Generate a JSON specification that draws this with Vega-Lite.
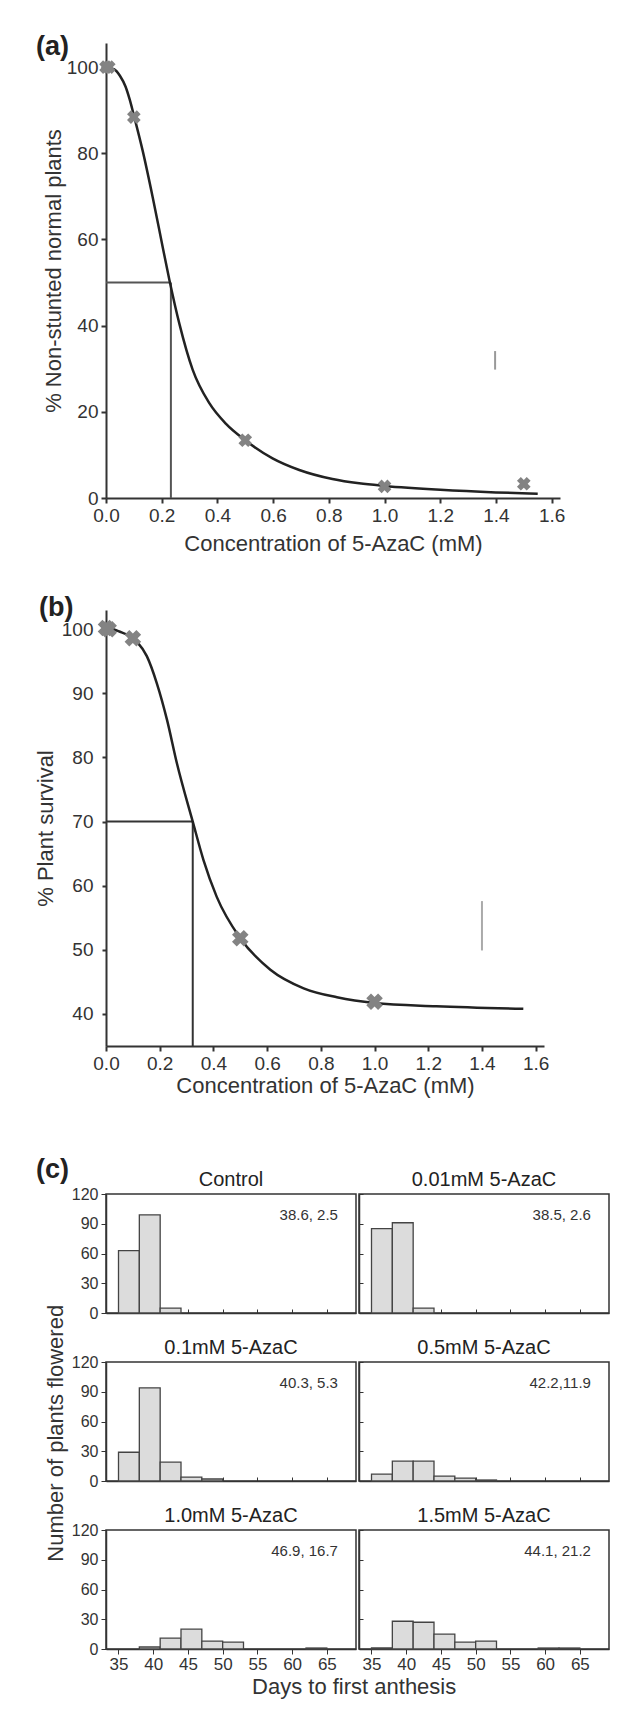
{
  "$schema": "https://vega.github.io/schema/vega-lite/v6.json",
  "padding": {"left": 34, "top": 33, "right": 5, "bottom": 5},
  "background": "white",
  "config": {
    "font": "Liberation Sans",
    "axis": {"domainColor": "#333", "tickColor": "#333", "labelColor": "#333", "titleColor": "#333", "grid": false, "titleFontWeight": "normal", "labelFont": "Liberation Sans", "titleFont": "Liberation Sans", "labelOverlap": false},
    "view": {"stroke": null},
    "title": {"color": "#222", "font": "Liberation Sans"}
  },
  "datasets": {
    "curveA": [
      {"x": 0, "y": 100}, {"x": 0.03, "y": 99.5}, {"x": 0.05, "y": 98.0}, {"x": 0.07, "y": 95.5}, {"x": 0.085, "y": 92.5},
      {"x": 0.1, "y": 88.8}, {"x": 0.132, "y": 80.5}, {"x": 0.168, "y": 69.7}, {"x": 0.204, "y": 58.1}, {"x": 0.228, "y": 50.5},
      {"x": 0.264, "y": 40.3}, {"x": 0.311, "y": 29.8}, {"x": 0.371, "y": 22.0}, {"x": 0.431, "y": 17.2}, {"x": 0.5, "y": 13.4},
      {"x": 0.598, "y": 9.2}, {"x": 0.694, "y": 6.5}, {"x": 0.813, "y": 4.4}, {"x": 0.909, "y": 3.4}, {"x": 1.0, "y": 2.8},
      {"x": 1.2, "y": 1.9}, {"x": 1.4, "y": 1.3}, {"x": 1.55, "y": 1.0}
    ],
    "pointsA": [
      {"x": 0, "y": 100}, {"x": 0.01, "y": 100}, {"x": 0.1, "y": 88.4}, {"x": 0.5, "y": 13.4}, {"x": 1.0, "y": 2.7}, {"x": 1.5, "y": 3.3}
    ],
    "refA": [
      {"x": 0, "x2": 0.233, "y": 50, "y2": 50}, {"x": 0.233, "x2": 0.233, "y": 0, "y2": 50}
    ],
    "strayA": [{"x": 1.397, "y": 29.8, "y2": 34.1}],
    "curveB": [
      {"x": 0, "y": 100.3}, {"x": 0.046, "y": 99.7}, {"x": 0.114, "y": 98.1}, {"x": 0.152, "y": 95.8}, {"x": 0.189, "y": 91.6},
      {"x": 0.227, "y": 85.9}, {"x": 0.264, "y": 79.1}, {"x": 0.323, "y": 70.0}, {"x": 0.363, "y": 64.0}, {"x": 0.412, "y": 58.3},
      {"x": 0.5, "y": 51.8}, {"x": 0.612, "y": 46.9}, {"x": 0.736, "y": 44.0}, {"x": 0.86, "y": 42.6}, {"x": 1.0, "y": 41.7},
      {"x": 1.23, "y": 41.2}, {"x": 1.554, "y": 40.8}
    ],
    "pointsB": [
      {"x": 0, "y": 100.2}, {"x": 0.01, "y": 100.0}, {"x": 0.1, "y": 98.6}, {"x": 0.5, "y": 51.8}, {"x": 1.0, "y": 41.9}
    ],
    "refB": [
      {"x": 0, "x2": 0.323, "y": 70, "y2": 70}, {"x": 0.323, "x2": 0.323, "y": 35, "y2": 70}
    ],
    "strayB": [{"x": 1.4, "y": 49.9, "y2": 57.6}],
    "hist": [
      {"panel": "Control", "start": 35, "end": 38, "count": 63},
      {"panel": "Control", "start": 38, "end": 41, "count": 99},
      {"panel": "Control", "start": 41, "end": 44, "count": 5},
      {"panel": "0.01mM 5-AzaC", "start": 35, "end": 38, "count": 85},
      {"panel": "0.01mM 5-AzaC", "start": 38, "end": 41, "count": 91},
      {"panel": "0.01mM 5-AzaC", "start": 41, "end": 44, "count": 5},
      {"panel": "0.1mM 5-AzaC", "start": 35, "end": 38, "count": 29},
      {"panel": "0.1mM 5-AzaC", "start": 38, "end": 41, "count": 94},
      {"panel": "0.1mM 5-AzaC", "start": 41, "end": 44, "count": 19},
      {"panel": "0.1mM 5-AzaC", "start": 44, "end": 47, "count": 4},
      {"panel": "0.1mM 5-AzaC", "start": 47, "end": 50, "count": 2},
      {"panel": "0.5mM 5-AzaC", "start": 35, "end": 38, "count": 7},
      {"panel": "0.5mM 5-AzaC", "start": 38, "end": 41, "count": 20},
      {"panel": "0.5mM 5-AzaC", "start": 41, "end": 44, "count": 20},
      {"panel": "0.5mM 5-AzaC", "start": 44, "end": 47, "count": 5},
      {"panel": "0.5mM 5-AzaC", "start": 47, "end": 50, "count": 3},
      {"panel": "0.5mM 5-AzaC", "start": 50, "end": 53, "count": 1},
      {"panel": "1.0mM 5-AzaC", "start": 38, "end": 41, "count": 2},
      {"panel": "1.0mM 5-AzaC", "start": 41, "end": 44, "count": 11},
      {"panel": "1.0mM 5-AzaC", "start": 44, "end": 47, "count": 20},
      {"panel": "1.0mM 5-AzaC", "start": 47, "end": 50, "count": 8},
      {"panel": "1.0mM 5-AzaC", "start": 50, "end": 53, "count": 7},
      {"panel": "1.0mM 5-AzaC", "start": 62, "end": 65, "count": 1},
      {"panel": "1.5mM 5-AzaC", "start": 35, "end": 38, "count": 1},
      {"panel": "1.5mM 5-AzaC", "start": 38, "end": 41, "count": 28},
      {"panel": "1.5mM 5-AzaC", "start": 41, "end": 44, "count": 27},
      {"panel": "1.5mM 5-AzaC", "start": 44, "end": 47, "count": 15},
      {"panel": "1.5mM 5-AzaC", "start": 47, "end": 50, "count": 7},
      {"panel": "1.5mM 5-AzaC", "start": 50, "end": 53, "count": 8},
      {"panel": "1.5mM 5-AzaC", "start": 59, "end": 62, "count": 1},
      {"panel": "1.5mM 5-AzaC", "start": 62, "end": 65, "count": 1}
    ],
    "notes": [
      {"panel": "Control", "note": "38.6, 2.5"},
      {"panel": "0.01mM 5-AzaC", "note": "38.5, 2.6"},
      {"panel": "0.1mM 5-AzaC", "note": "40.3, 5.3"},
      {"panel": "0.5mM 5-AzaC", "note": "42.2,11.9"},
      {"panel": "1.0mM 5-AzaC", "note": "46.9, 16.7"},
      {"panel": "1.5mM 5-AzaC", "note": "44.1, 21.2"}
    ]
  },
  "spacing": 59,
  "vconcat": [
    {
      "spacing": 40,
      "vconcat": [
        {
          "width": 454, "height": 455,
          "title": {"text": "(a)", "anchor": "start", "frame": "group", "fontSize": 27, "fontWeight": "bold", "dx": -70, "offset": -18},
          "layer": [
            {"data": {"name": "refA"}, "mark": {"type": "rule", "color": "#555", "strokeWidth": 2},
             "encoding": {
               "x": {"field": "x", "type": "quantitative", "scale": {"domain": [0, 1.63], "nice": false, "zero": false},
                     "axis": {"title": "Concentration of 5-AzaC (mM)", "values": [0, 0.2, 0.4, 0.6, 0.8, 1.0, 1.2, 1.4, 1.6], "tickCount": 20, "format": ".1f", "labelFontSize": 19, "titleFontSize": 22, "tickSize": 5, "tickWidth": 2, "domainWidth": 2, "labelPadding": 3, "titlePadding": 8, "labelFlush": false}},
               "x2": {"field": "x2"},
               "y": {"field": "y", "type": "quantitative", "scale": {"domain": [0, 105.6], "nice": false},
                     "axis": {"title": "% Non-stunted normal plants", "values": [0, 20, 40, 60, 80, 100], "tickCount": 20, "labelFontSize": 19, "titleFontSize": 22, "tickSize": 5, "tickWidth": 2, "domainWidth": 2, "labelPadding": 3, "titlePadding": 1, "labelFlush": false}},
               "y2": {"field": "y2"}
             }},
            {"data": {"name": "curveA"}, "mark": {"type": "line", "color": "#222", "strokeWidth": 2.5, "interpolate": "monotone"},
             "encoding": {"x": {"field": "x", "type": "quantitative"}, "y": {"field": "y", "type": "quantitative"}}},
            {"data": {"name": "pointsA"}, "mark": {"type": "point", "shape": "cross", "angle": 45, "filled": true, "color": "#838383", "size": 190, "opacity": 1},
             "encoding": {"x": {"field": "x", "type": "quantitative"}, "y": {"field": "y", "type": "quantitative"}}},
            {"data": {"name": "strayA"}, "mark": {"type": "rule", "color": "#999", "strokeWidth": 2},
             "encoding": {"x": {"field": "x", "type": "quantitative"}, "y": {"field": "y", "type": "quantitative"}, "y2": {"field": "y2"}}}
          ]
        },
        {
          "width": 438, "height": 436,
          "title": {"text": "(b)", "anchor": "start", "frame": "group", "fontSize": 27, "fontWeight": "bold", "dx": -67, "offset": -12},
          "layer": [
            {"data": {"name": "refB"}, "mark": {"type": "rule", "color": "#333", "strokeWidth": 2},
             "encoding": {
               "x": {"field": "x", "type": "quantitative", "scale": {"domain": [0, 1.631], "nice": false, "zero": false},
                     "axis": {"title": "Concentration of 5-AzaC (mM)", "values": [0, 0.2, 0.4, 0.6, 0.8, 1.0, 1.2, 1.4, 1.6], "tickCount": 20, "format": ".1f", "labelFontSize": 19, "titleFontSize": 22, "tickSize": 5, "tickWidth": 2, "domainWidth": 2, "labelPadding": 3, "titlePadding": 2, "labelFlush": false}},
               "x2": {"field": "x2"},
               "y": {"field": "y", "type": "quantitative", "scale": {"domain": [35, 103], "nice": false, "zero": false},
                     "axis": {"title": "% Plant survival", "values": [40, 50, 60, 70, 80, 90, 100], "tickCount": 20, "labelFontSize": 19, "titleFontSize": 22, "tickSize": 4, "tickWidth": 2, "domainWidth": 2, "labelPadding": 9, "titlePadding": 4, "labelFlush": false}},
               "y2": {"field": "y2"}
             }},
            {"data": {"name": "curveB"}, "mark": {"type": "line", "color": "#222", "strokeWidth": 2.5, "interpolate": "monotone"},
             "encoding": {"x": {"field": "x", "type": "quantitative"}, "y": {"field": "y", "type": "quantitative"}}},
            {"data": {"name": "pointsB"}, "mark": {"type": "point", "shape": "cross", "angle": 45, "filled": true, "color": "#838383", "size": 280, "opacity": 1},
             "encoding": {"x": {"field": "x", "type": "quantitative"}, "y": {"field": "y", "type": "quantitative"}}},
            {"data": {"name": "strayB"}, "mark": {"type": "rule", "color": "#aaa", "strokeWidth": 2},
             "encoding": {"x": {"field": "x", "type": "quantitative"}, "y": {"field": "y", "type": "quantitative"}, "y2": {"field": "y2"}}}
          ]
        }
      ]
    },
    {
      "title": {"text": "(c)", "anchor": "start", "frame": "group", "fontSize": 27, "fontWeight": "bold", "dx": -70, "offset": -15},
      "vconcat": [
        {
          "title": {"text": "Number of plants flowered", "orient": "left", "anchor": "middle", "fontSize": 22, "fontWeight": "normal", "color": "#333", "offset": 3},
          "vconcat": [
            {
              "title": {"text": "Days to first anthesis", "orient": "bottom", "anchor": "middle", "dx": 14, "fontSize": 22, "fontWeight": "normal", "color": "#333", "offset": 4},
              "spacing": 14,
              "vconcat": [
                {
                  "spacing": 0,
                  "hconcat": [
                    {
                      "width": 250, "height": 119, "view": {"stroke": "#333", "strokeWidth": 1.5},
                      "title": {"text": "Control", "fontSize": 20, "fontWeight": "normal", "offset": -4},
                      "data": {"name": "hist"}, "transform": [{"filter": "datum.panel === 'Control'"}],
                      "layer": [
                        {"mark": {"type": "bar", "fill": "#dcdcdc", "stroke": "#444", "strokeWidth": 1.3},
                         "encoding": {
                           "x": {"field": "start", "type": "quantitative", "scale": {"domain": [33.2, 69.2], "nice": false, "zero": false}, "axis": {"title": null, "values": [35, 40, 45, 50, 55, 60, 65], "tickCount": 20, "labels": false, "tickSize": -4, "domainWidth": 1.5}},
                           "x2": {"field": "end"},
                           "y": {"field": "count", "type": "quantitative", "scale": {"domain": [0, 120], "nice": false}, "axis": {"title": null, "values": [0, 30, 60, 90, 120], "tickCount": 20, "labelFontSize": 16, "tickSize": 5, "labelPadding": 3, "domainWidth": 1.5}},
                           "y2": {"datum": 0}
                         }},
                        {"data": {"name": "notes"}, "transform": [{"filter": "datum.panel === 'Control'"}],
                         "mark": {"type": "text", "align": "right", "baseline": "middle", "fontSize": 15, "color": "#333"},
                         "encoding": {"x": {"datum": 66.6}, "y": {"datum": 99}, "text": {"field": "note"}}}
                      ]
                    },
                    {
                      "width": 250, "height": 119, "view": {"stroke": "#333", "strokeWidth": 1.5},
                      "title": {"text": "0.01mM 5-AzaC", "fontSize": 20, "fontWeight": "normal", "offset": 4},
                      "data": {"name": "hist"}, "transform": [{"filter": "datum.panel === '0.01mM 5-AzaC'"}],
                      "layer": [
                        {"mark": {"type": "bar", "fill": "#dcdcdc", "stroke": "#444", "strokeWidth": 1.3},
                         "encoding": {
                           "x": {"field": "start", "type": "quantitative", "scale": {"domain": [33.2, 69.2], "nice": false, "zero": false}, "axis": {"title": null, "values": [35, 40, 45, 50, 55, 60, 65], "tickCount": 20, "labels": false, "tickSize": -4, "domainWidth": 1.5}},
                           "x2": {"field": "end"},
                           "y": {"field": "count", "type": "quantitative", "scale": {"domain": [0, 120], "nice": false}, "axis": {"title": null, "values": [0, 30, 60, 90, 120], "tickCount": 20, "labels": false, "tickSize": -4, "domainWidth": 1.5}},
                           "y2": {"datum": 0}
                         }},
                        {"data": {"name": "notes"}, "transform": [{"filter": "datum.panel === '0.01mM 5-AzaC'"}],
                         "mark": {"type": "text", "align": "right", "baseline": "middle", "fontSize": 15, "color": "#333"},
                         "encoding": {"x": {"datum": 66.6}, "y": {"datum": 99}, "text": {"field": "note"}}}
                      ]
                    }
                  ]
                },
                {
                  "spacing": 0,
                  "hconcat": [
                    {
                      "width": 250, "height": 119, "view": {"stroke": "#333", "strokeWidth": 1.5},
                      "title": {"text": "0.1mM 5-AzaC", "fontSize": 20, "fontWeight": "normal", "offset": -4},
                      "data": {"name": "hist"}, "transform": [{"filter": "datum.panel === '0.1mM 5-AzaC'"}],
                      "layer": [
                        {"mark": {"type": "bar", "fill": "#dcdcdc", "stroke": "#444", "strokeWidth": 1.3},
                         "encoding": {
                           "x": {"field": "start", "type": "quantitative", "scale": {"domain": [33.2, 69.2], "nice": false, "zero": false}, "axis": {"title": null, "values": [35, 40, 45, 50, 55, 60, 65], "tickCount": 20, "labels": false, "tickSize": -4, "domainWidth": 1.5}},
                           "x2": {"field": "end"},
                           "y": {"field": "count", "type": "quantitative", "scale": {"domain": [0, 120], "nice": false}, "axis": {"title": null, "values": [0, 30, 60, 90, 120], "tickCount": 20, "labelFontSize": 16, "tickSize": 5, "labelPadding": 3, "domainWidth": 1.5}},
                           "y2": {"datum": 0}
                         }},
                        {"data": {"name": "notes"}, "transform": [{"filter": "datum.panel === '0.1mM 5-AzaC'"}],
                         "mark": {"type": "text", "align": "right", "baseline": "middle", "fontSize": 15, "color": "#333"},
                         "encoding": {"x": {"datum": 66.6}, "y": {"datum": 99}, "text": {"field": "note"}}}
                      ]
                    },
                    {
                      "width": 250, "height": 119, "view": {"stroke": "#333", "strokeWidth": 1.5},
                      "title": {"text": "0.5mM 5-AzaC", "fontSize": 20, "fontWeight": "normal", "offset": 4},
                      "data": {"name": "hist"}, "transform": [{"filter": "datum.panel === '0.5mM 5-AzaC'"}],
                      "layer": [
                        {"mark": {"type": "bar", "fill": "#dcdcdc", "stroke": "#444", "strokeWidth": 1.3},
                         "encoding": {
                           "x": {"field": "start", "type": "quantitative", "scale": {"domain": [33.2, 69.2], "nice": false, "zero": false}, "axis": {"title": null, "values": [35, 40, 45, 50, 55, 60, 65], "tickCount": 20, "labels": false, "tickSize": -4, "domainWidth": 1.5}},
                           "x2": {"field": "end"},
                           "y": {"field": "count", "type": "quantitative", "scale": {"domain": [0, 120], "nice": false}, "axis": {"title": null, "values": [0, 30, 60, 90, 120], "tickCount": 20, "labels": false, "tickSize": -4, "domainWidth": 1.5}},
                           "y2": {"datum": 0}
                         }},
                        {"data": {"name": "notes"}, "transform": [{"filter": "datum.panel === '0.5mM 5-AzaC'"}],
                         "mark": {"type": "text", "align": "right", "baseline": "middle", "fontSize": 15, "color": "#333"},
                         "encoding": {"x": {"datum": 66.6}, "y": {"datum": 99}, "text": {"field": "note"}}}
                      ]
                    }
                  ]
                },
                {
                  "spacing": 0,
                  "hconcat": [
                    {
                      "width": 250, "height": 119, "view": {"stroke": "#333", "strokeWidth": 1.5},
                      "title": {"text": "1.0mM 5-AzaC", "fontSize": 20, "fontWeight": "normal", "offset": -4},
                      "data": {"name": "hist"}, "transform": [{"filter": "datum.panel === '1.0mM 5-AzaC'"}],
                      "layer": [
                        {"mark": {"type": "bar", "fill": "#dcdcdc", "stroke": "#444", "strokeWidth": 1.3},
                         "encoding": {
                           "x": {"field": "start", "type": "quantitative", "scale": {"domain": [33.2, 69.2], "nice": false, "zero": false}, "axis": {"title": null, "values": [35, 40, 45, 50, 55, 60, 65], "tickCount": 20, "labelFontSize": 17, "tickSize": 5, "labelPadding": 2, "domainWidth": 1.5, "labelFlush": false}},
                           "x2": {"field": "end"},
                           "y": {"field": "count", "type": "quantitative", "scale": {"domain": [0, 120], "nice": false}, "axis": {"title": null, "values": [0, 30, 60, 90, 120], "tickCount": 20, "labelFontSize": 16, "tickSize": 5, "labelPadding": 3, "domainWidth": 1.5}},
                           "y2": {"datum": 0}
                         }},
                        {"data": {"name": "notes"}, "transform": [{"filter": "datum.panel === '1.0mM 5-AzaC'"}],
                         "mark": {"type": "text", "align": "right", "baseline": "middle", "fontSize": 15, "color": "#333"},
                         "encoding": {"x": {"datum": 66.6}, "y": {"datum": 99}, "text": {"field": "note"}}}
                      ]
                    },
                    {
                      "width": 250, "height": 119, "view": {"stroke": "#333", "strokeWidth": 1.5},
                      "title": {"text": "1.5mM 5-AzaC", "fontSize": 20, "fontWeight": "normal", "offset": 4},
                      "data": {"name": "hist"}, "transform": [{"filter": "datum.panel === '1.5mM 5-AzaC'"}],
                      "layer": [
                        {"mark": {"type": "bar", "fill": "#dcdcdc", "stroke": "#444", "strokeWidth": 1.3},
                         "encoding": {
                           "x": {"field": "start", "type": "quantitative", "scale": {"domain": [33.2, 69.2], "nice": false, "zero": false}, "axis": {"title": null, "values": [35, 40, 45, 50, 55, 60, 65], "tickCount": 20, "labelFontSize": 17, "tickSize": 5, "labelPadding": 2, "domainWidth": 1.5, "labelFlush": false}},
                           "x2": {"field": "end"},
                           "y": {"field": "count", "type": "quantitative", "scale": {"domain": [0, 120], "nice": false}, "axis": {"title": null, "values": [0, 30, 60, 90, 120], "tickCount": 20, "labels": false, "tickSize": -4, "domainWidth": 1.5}},
                           "y2": {"datum": 0}
                         }},
                        {"data": {"name": "notes"}, "transform": [{"filter": "datum.panel === '1.5mM 5-AzaC'"}],
                         "mark": {"type": "text", "align": "right", "baseline": "middle", "fontSize": 15, "color": "#333"},
                         "encoding": {"x": {"datum": 66.6}, "y": {"datum": 99}, "text": {"field": "note"}}}
                      ]
                    }
                  ]
                }
              ]
            }
          ]
        }
      ]
    }
  ]
}
